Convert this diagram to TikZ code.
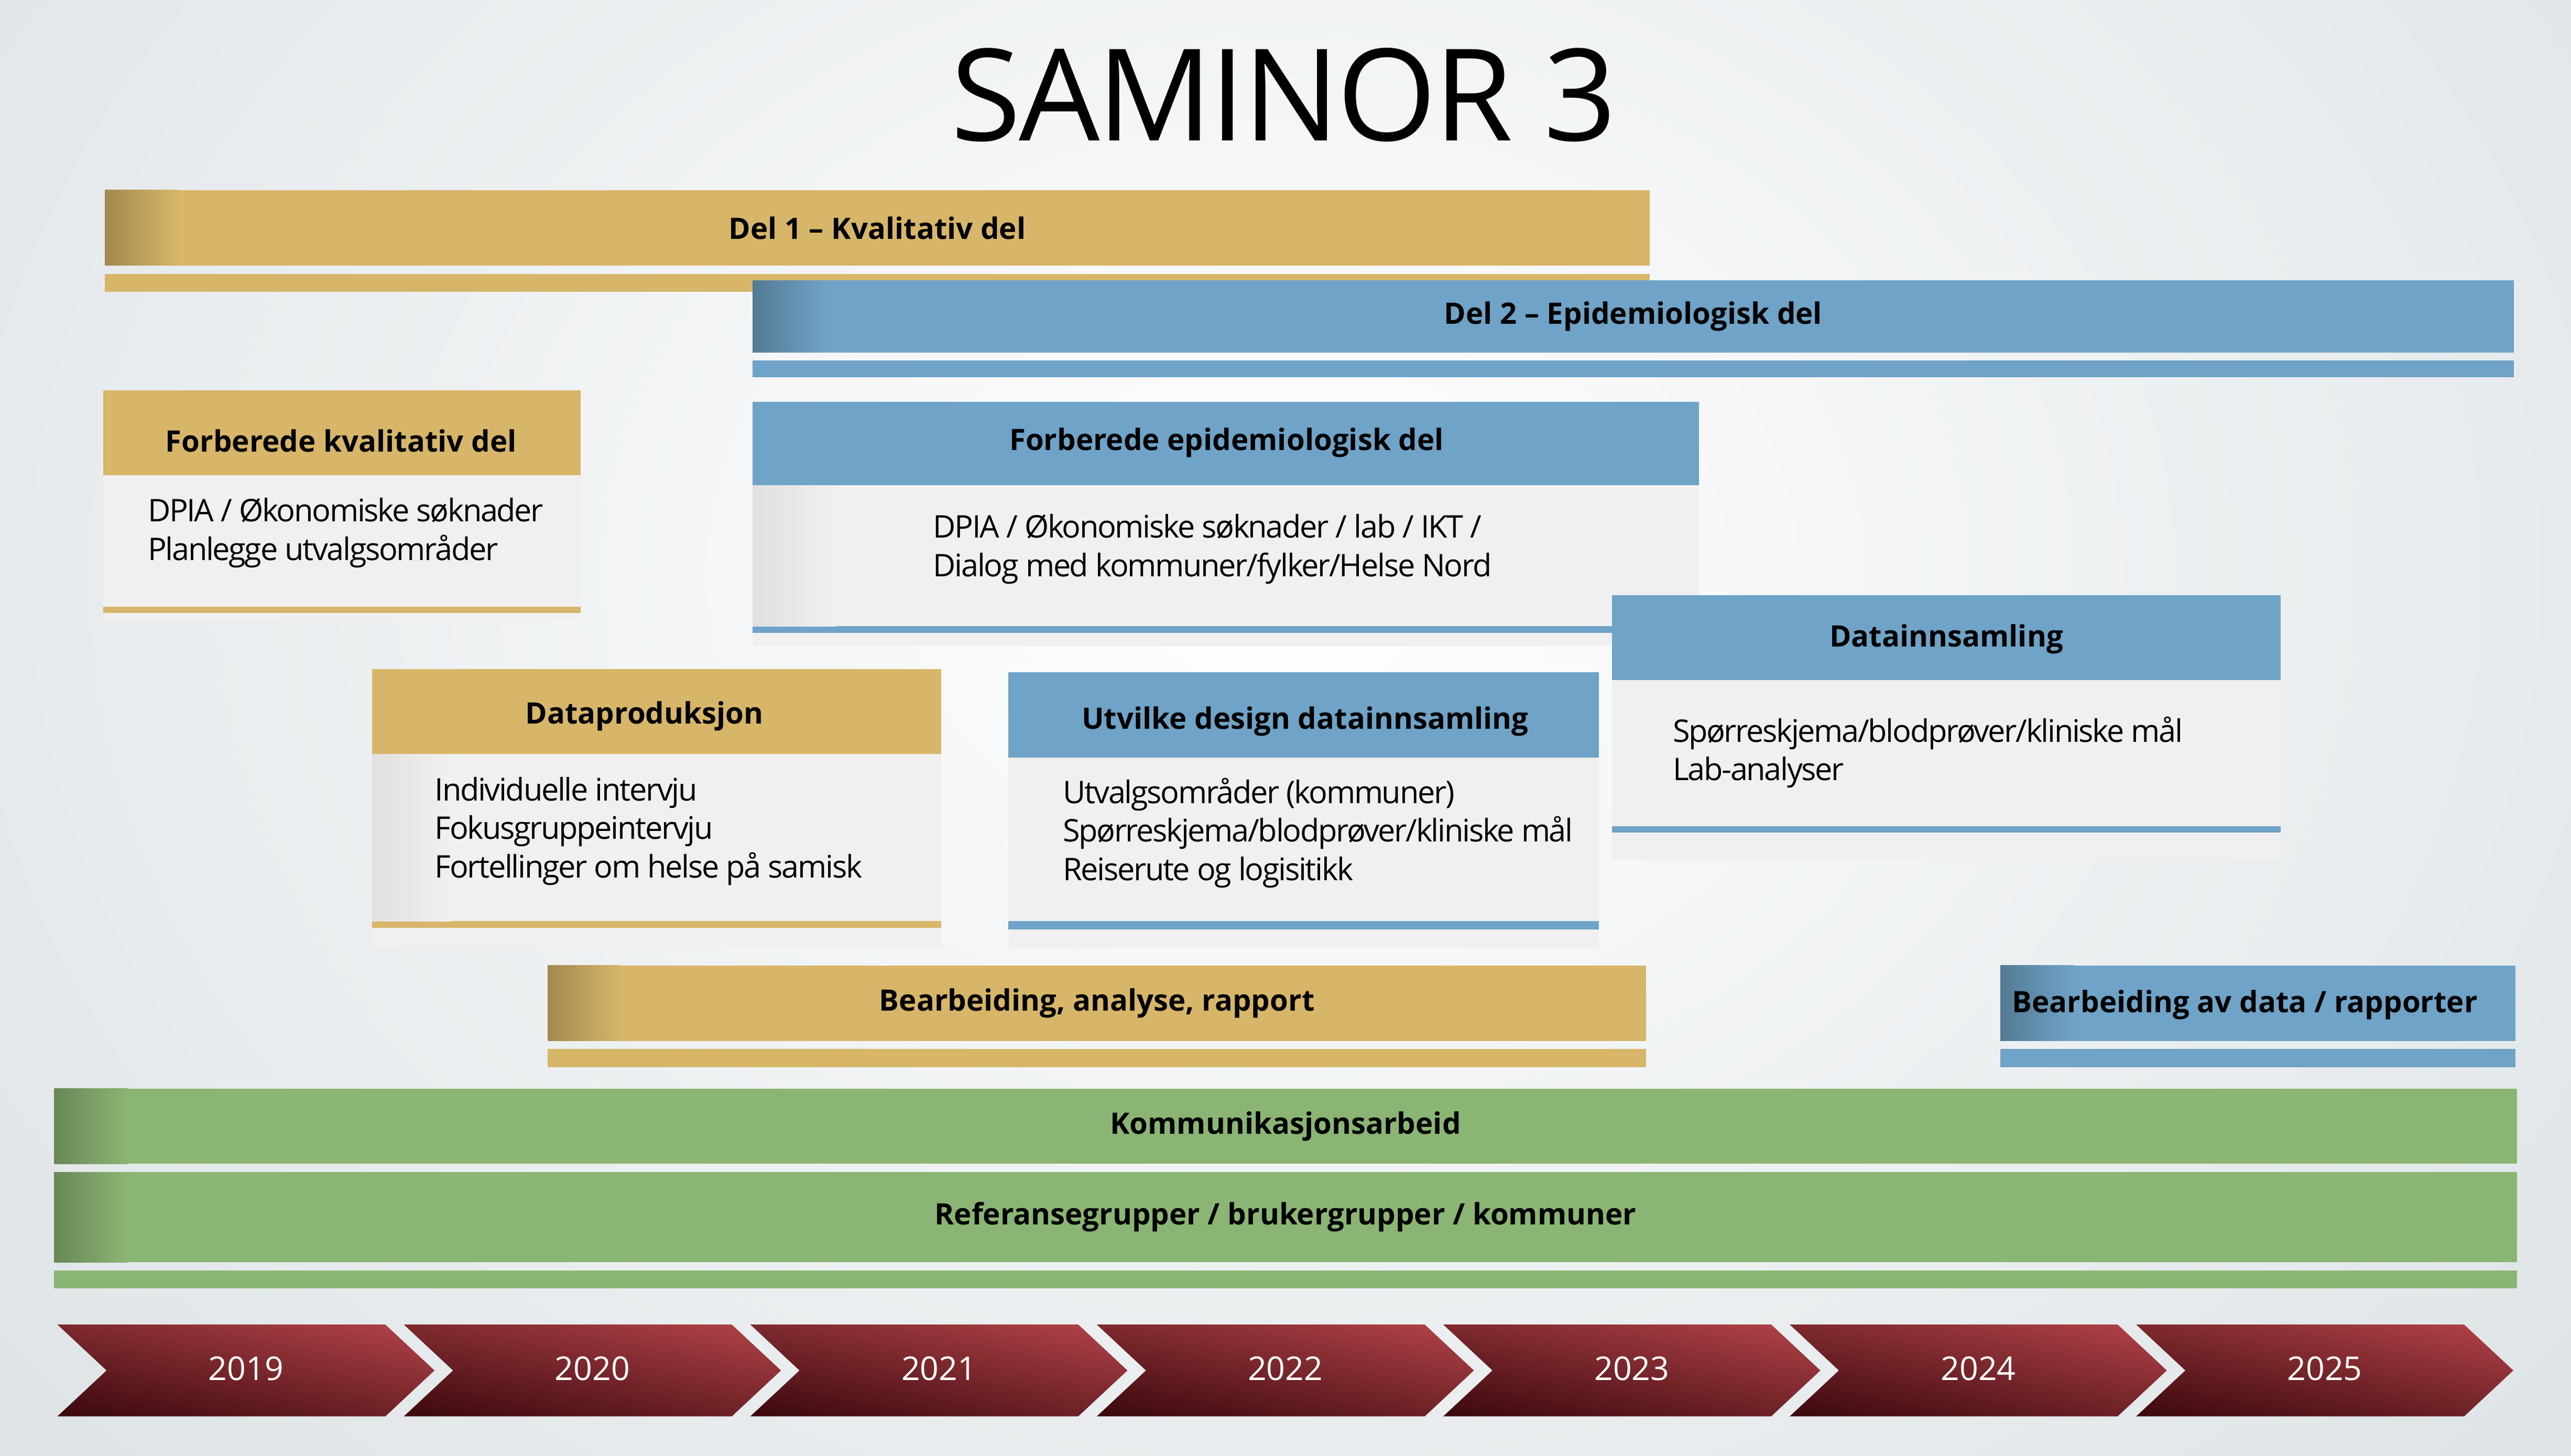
\documentclass[tikz,border=0pt]{standalone}
\usepackage{fontspec}
\setmainfont{Open Sans}
\usetikzlibrary{shadings}
\begin{document}
\definecolor{gold}{HTML}{D7B66A}
\definecolor{blu}{HTML}{6FA3C7}
\definecolor{grn}{HTML}{8BB574}
\definecolor{bod}{HTML}{F0F0F0}
\definecolor{bg}{HTML}{DCE2E5}
\definecolor{rdk}{HTML}{3A080C}
\definecolor{rlt}{HTML}{B4444A}
\begin{tikzpicture}[x=1pt,y=-1pt,
  bar/.style={anchor=north west,inner sep=0,font=\bfseries\fontsize{18}{20}\selectfont,text=black},
  txt/.style={anchor=west,align=left,inner sep=0,font=\fontsize{19}{23.5}\selectfont\addfontfeatures{LetterSpace=-4}},
  yr/.style={font=\fontsize{20}{22}\selectfont,text=white}]
\useasboundingbox (0,0) rectangle (1568,888);
\shade[inner color=white,outer color=bg] (-300,-500) rectangle (1868,1200);
\node[font=\fontsize{78}{80}\selectfont\addfontfeatures{LetterSpace=-2}] (title) at (783,58) {SAMINOR 3};
\newcommand{\mybar}[6]{%
  \fill[#6] (#2,#3) rectangle (#4,#5);
  \shade[left color=#6!75!black,right color=#6] (#2,#3) rectangle ({#2+45},#5);
  \coordinate (#1) at ({(#2+#4)/2},{(#3+#5)/2});}
% Del 1
\mybar{d1}{64}{116}{1006}{162}{gold}\fill[gold] (64,167) rectangle (1006,178);
\node[bar,anchor=center] (d1t) at (d1) {Del 1 – Kvalitativ del};
% Del 2
\mybar{d2}{459}{171}{1533}{215}{blu}\fill[blu] (459,220) rectangle (1533,230);
\node[bar,anchor=center] (d2t) at (d2) {Del 2 – Epidemiologisk del};
% Forberede kvalitativ
\fill[bod] (63,290) rectangle (354,378);\fill[gold] (63,370) rectangle (354,374);
\fill[gold] (63,238) rectangle (354,290);
\node[bar,anchor=center] (fk) at (208,269) {Forberede kvalitativ del};
\node[txt] (fkt) at (90,325) {DPIA / Økonomiske søknader\\Planlegge utvalgsområder};
% Forberede epidemiologisk
\fill[bod] (459,296) rectangle (1036,394);\fill[blu] (459,382) rectangle (1036,386);
\shade[left color=black!12,right color=bod] (459,296) rectangle (510,382);
\fill[blu] (459,245) rectangle (1036,296);
\node[bar,anchor=center] (fe) at (748,270) {Forberede epidemiologisk del};
\node[txt] (fet) at (569,335) {DPIA / Økonomiske søknader / lab / IKT /\\Dialog med kommuner/fylker/Helse Nord};
% Datainnsamling
\fill[bod] (983,415) rectangle (1391,524);\fill[blu] (983,504) rectangle (1391,508);
\fill[blu] (983,363) rectangle (1391,415);
\node[bar,anchor=center] (di) at (1187,390) {Datainnsamling};
\node[txt] (dit) at (1020,459) {Spørreskjema/blodprøver/kliniske mål\\Lab-analyser};
% Dataproduksjon
\fill[bod] (227,460) rectangle (574,578);\fill[gold] (227,562) rectangle (574,566);
\shade[left color=black!12,right color=bod] (227,460) rectangle (275,562);
\fill[gold] (227,408) rectangle (574,460);
\node[bar,anchor=center] (dp) at (393,437) {Dataproduksjon};
\node[txt] (dpt) at (265,507) {Individuelle intervju\\Fokusgruppeintervju\\Fortellinger om helse på samisk};
% Utvikle design
\fill[bod] (615,462) rectangle (975,578);\fill[blu] (615,562) rectangle (975,567);
\fill[blu] (615,410) rectangle (975,462);
\node[bar,anchor=center] (ud) at (796,440) {Utvilke design datainnsamling};
\node[txt] (udt) at (648,508) {Utvalgsområder (kommuner)\\Spørreskjema/blodprøver/kliniske mål\\Reiserute og logisitikk};
% Bearbeiding
\mybar{ba}{334}{589}{1004}{635}{gold}\fill[gold] (334,640) rectangle (1004,651);
\node[bar,anchor=center] (bat) at (ba) {Bearbeiding, analyse, rapport};
\mybar{bd}{1220}{589}{1534}{635}{blu}\fill[blu] (1220,640) rectangle (1534,651);
\node[bar,anchor=west] (bdt) at (1227,613) {Bearbeiding av data / rapporter};
% green
\mybar{ka}{33}{664}{1535}{710}{grn}
\node[bar,anchor=center] (kat) at (ka) {Kommunikasjonsarbeid};
\mybar{rg}{33}{715}{1535}{770}{grn}\fill[grn] (33,775) rectangle (1535,786);
\node[bar,anchor=center] (rgt) at (rg) {Referansegrupper / brukergrupper / kommuner};
% chevrons
\foreach \y [count=\i from 0] in {2019,...,2025}{
  \pgfmathsetmacro{\xo}{35+211.3*\i}
  \shade[upper left=rlt!55!rdk,upper right=rlt,lower left=rdk,lower right=rlt!45!rdk]
    (\xo,808) -- ({\xo+200},808) -- ({\xo+230},836) -- ({\xo+200},864) -- (\xo,864) -- ({\xo+30},836) -- cycle;
  \node[yr] (y\y) at ({\xo+115},835) {\y};
}
\end{tikzpicture}
\end{document}
